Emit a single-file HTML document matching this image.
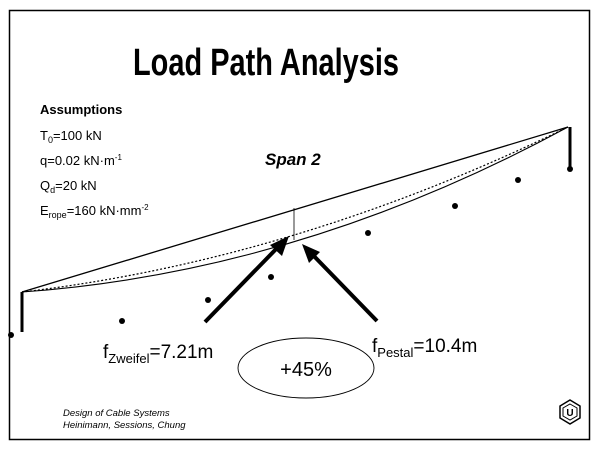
<!DOCTYPE html>
<html><head><meta charset="utf-8"><style>
html,body{margin:0;padding:0;background:#fff}
svg{display:block}
text{font-family:"Liberation Sans",Arial,sans-serif;fill:#000}
</style></head><body>
<svg width="600" height="451" viewBox="0 0 600 451" xmlns="http://www.w3.org/2000/svg">
<rect x="9.5" y="10.5" width="580" height="429" fill="#fff" stroke="#000" stroke-width="1.5"/>
<text x="133" y="75" font-size="38" font-weight="bold" textLength="266" lengthAdjust="spacingAndGlyphs">Load Path Analysis</text>
<text x="40" y="114" font-size="13" font-weight="bold">Assumptions</text>
<text x="40" y="140" font-size="13">T<tspan font-size="9" dy="3">0</tspan><tspan dy="-3">=100 kN</tspan></text>
<text x="40" y="165" font-size="13">q=0.02 kN·m<tspan font-size="8" dy="-5">-1</tspan></text>
<text x="40" y="190" font-size="13">Q<tspan font-size="9" dy="3">d</tspan><tspan dy="-3">=20 kN</tspan></text>
<text x="40" y="215" font-size="13">E<tspan font-size="9" dy="3">rope</tspan><tspan dy="-3">=160 kN·mm</tspan><tspan font-size="8" dy="-5">-2</tspan></text>
<text x="265" y="165" font-size="17" font-weight="bold" font-style="italic">Span 2</text>
<!-- cables -->
<line x1="22" y1="292" x2="568" y2="127" stroke="#000" stroke-width="1.3"/>
<path d="M22,292 Q295,260 568,127" fill="none" stroke="#000" stroke-width="1.2" stroke-dasharray="2,2"/>
<path d="M22,292 Q300,272 568,127" fill="none" stroke="#000" stroke-width="1.1"/>
<line x1="294" y1="208" x2="294" y2="240" stroke="#000" stroke-width="0.8"/>
<!-- posts -->
<line x1="22" y1="292" x2="22" y2="332" stroke="#000" stroke-width="3"/>
<line x1="570" y1="127" x2="570" y2="168" stroke="#000" stroke-width="3"/>
<g fill="#000">
<circle cx="11" cy="335" r="3"/><circle cx="122" cy="321" r="3"/><circle cx="208" cy="300" r="3"/>
<circle cx="271" cy="277" r="3"/><circle cx="368" cy="233" r="3"/><circle cx="455" cy="206" r="3"/>
<circle cx="518" cy="180" r="3"/><circle cx="570" cy="169" r="3"/>
</g>
<!-- arrows -->
<line x1="205" y1="322" x2="280" y2="245" stroke="#000" stroke-width="4"/>
<polygon points="289,236 270,245 282,256" fill="#000"/>
<line x1="377" y1="321" x2="309" y2="251" stroke="#000" stroke-width="4"/>
<polygon points="302,244 309,263 320,252" fill="#000"/>
<text x="103" y="358" font-size="19">f<tspan font-size="13" dy="5">Zweifel</tspan><tspan dy="-5">=7.21m</tspan></text>
<text x="372" y="352" font-size="19">f<tspan font-size="13" dy="5">Pestal</tspan><tspan dy="-5">=10.4m</tspan></text>
<ellipse cx="306" cy="368" rx="68" ry="30" fill="none" stroke="#000" stroke-width="0.9"/>
<text x="306" y="376" font-size="20" text-anchor="middle">+45%</text>
<text x="63" y="416" font-size="9.5" font-style="italic">Design of Cable Systems</text>
<text x="63" y="428" font-size="9.5" font-style="italic">Heinimann, Sessions, Chung</text>
<!-- logo -->
<polygon points="570,400 580,406 580,418 570,424 560,418 560,406" fill="none" stroke="#000" stroke-width="1.5"/>
<polygon points="570,404 577,408 577,416 570,420 563,416 563,408" fill="none" stroke="#000" stroke-width="1"/>
<text x="570" y="416" font-size="10" font-weight="bold" text-anchor="middle">U</text>
</svg>
</body></html>
